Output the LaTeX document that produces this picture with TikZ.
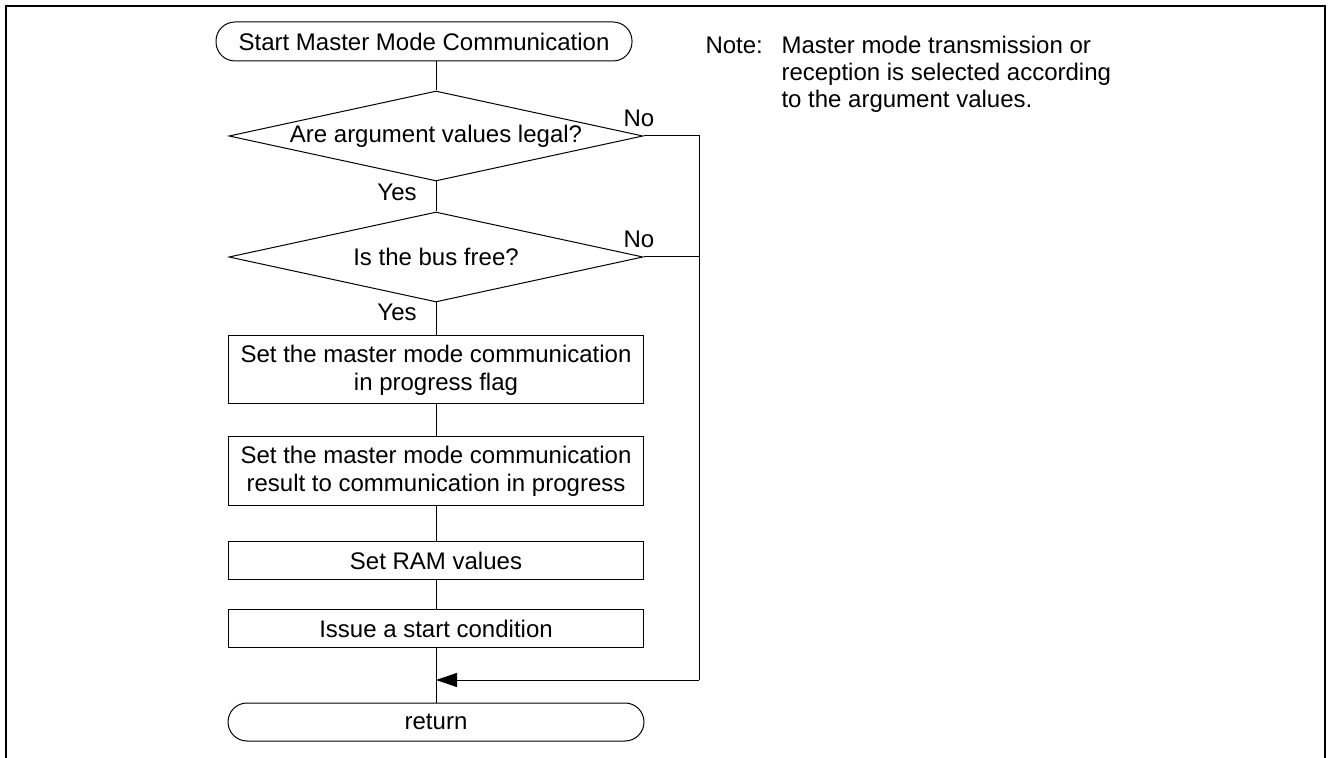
\documentclass[tikz,border=0pt]{standalone}
\usepackage{fontspec}
\setmainfont{Liberation Sans}
\usetikzlibrary{shapes.geometric,arrows.meta}

\begin{document}
\begin{tikzpicture}[x=0.5pt,y=-0.5pt,line width=0.5pt,
  every node/.style={font=\fontsize{12}{14}\selectfont},
  term/.style={draw, rectangle, rounded corners=9.5pt, minimum width=208pt, minimum height=19.5pt, inner sep=0pt},
  decide/.style={draw, diamond, minimum width=207pt, minimum height=45pt, inner sep=0pt},
  proc/.style={draw, rectangle, minimum width=207.5pt, inner sep=0pt, align=center}]
\useasboundingbox (0,0) rectangle (1328,758);
\draw [line width=1.2pt] (6,758) -- (6,6) -- (1325,6) -- (1325,758);
\node [term] (start) at (424,41.5) {Start Master Mode Communication};
\node [decide, label=center:{Are argument values legal?}] (legal) at (436,136) {};
\node [decide, label=center:{Is the bus free?}] (busfree) at (436,257) {};
\node [proc, minimum height=34pt] (setflag) at (436,370) {Set the master mode communication\\in progress flag};
\node [proc, minimum height=34.5pt] (setres) at (436,471.5) {Set the master mode communication\\result to communication in progress};
\node [proc, minimum height=19pt] (setram) at (436,561) {Set RAM values};
\node [proc, minimum height=19pt] (issue) at (436,629) {Issue a start condition};
\node [term, minimum height=19pt] (ret) at (436,722) {return};
\node (no1) at (639,118) {No};
\node (no2) at (639,239) {No};
\node (yes1) at (397,192) {Yes};
\node (yes2) at (397,312) {Yes};
\coordinate (merge) at (436,680);
\coordinate (bend) at (699,680);
\draw (start.south -| legal.north) -- (legal.north);
\draw (legal.south) -- (busfree.north);
\draw (busfree.south) -- (setflag.north);
\draw (setflag.south) -- (setres.north);
\draw (setres.south) -- (setram.north);
\draw (setram.south) -- (issue.north);
\draw (issue.south) -- (ret.north);
\draw (legal.east) -| (bend);
\draw (busfree.east) -- (busfree.east -| bend);
\draw [-{Triangle[length=10.5pt,width=7pt]}] (bend) -- (merge);
\node [anchor=north west, inner sep=0pt] (notehead) at (705,36) {Note:};
\node [anchor=north west, inner sep=0pt, align=left, font=\fontsize{12}{13.5}\selectfont] (notetext) at (781,36) {Master mode transmission or\\reception is selected according\\to the argument values.};
\end{tikzpicture}
\end{document}
